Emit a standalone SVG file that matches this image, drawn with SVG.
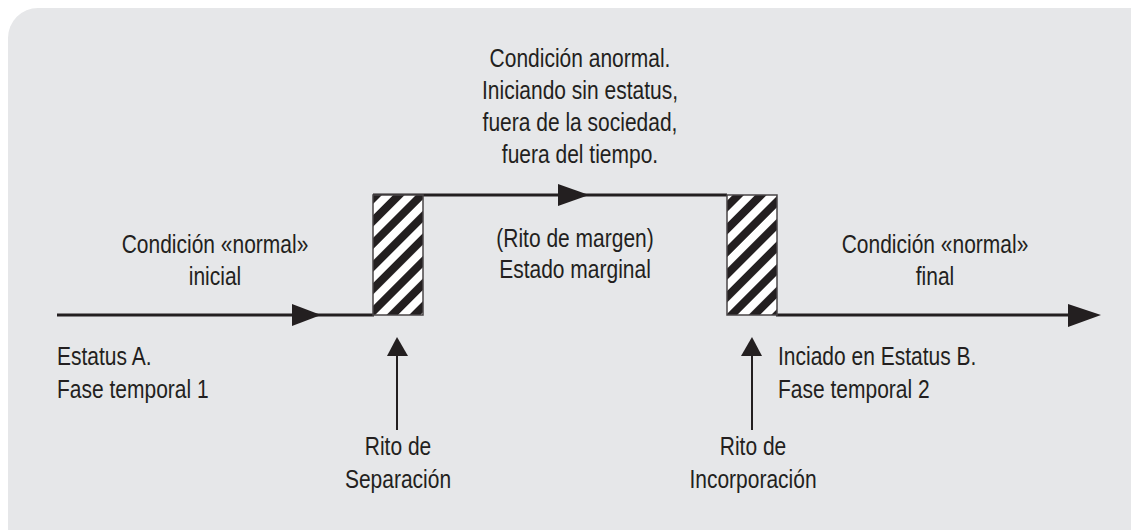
<svg xmlns="http://www.w3.org/2000/svg" width="1131" height="530" viewBox="0 0 1131 530">
<style>
.t{font-family:"Liberation Sans",Arial,sans-serif;font-size:25px;fill:#231f20}
.m{text-anchor:middle}
.ln{stroke:#231f20;stroke-width:3;fill:none}
.thin{stroke:#231f20;stroke-width:2;fill:none}
.ah{fill:#231f20}
.box{fill:url(#hatch);stroke:#4a4647;stroke-width:1.5}
</style>
<defs>
<pattern id="hatch" patternUnits="userSpaceOnUse" width="16" height="16" patternTransform="rotate(45)">
<rect width="16" height="16" fill="#ffffff"/>
<rect width="8" height="16" fill="#231f20"/>
</pattern>
</defs>
<rect x="8" y="8" width="1160" height="560" rx="30" fill="#e6e7e9"/>
<g id="connectors">
<line class="ln" x1="57" y1="315" x2="374" y2="315"/>
<polygon class="ah" points="292,304 321,315 292,326"/>
<line class="ln" x1="373" y1="195" x2="727" y2="195"/>
<polygon class="ah" points="558,184 589,195 558,206"/>
<line class="ln" x1="776" y1="315" x2="1070" y2="315"/>
<polygon class="ah" points="1068,304 1101,315 1068,327"/>
<line class="thin" x1="397" y1="430" x2="397" y2="352"/>
<polygon class="ah" points="387,356 397,337 408,356"/>
<line class="thin" x1="752" y1="430" x2="752" y2="352"/>
<polygon class="ah" points="741,356 752,337 762,356"/>
</g>
<g id="rito-separacion-box">
<rect class="box" x="373" y="195" width="50" height="120"/>
</g>
<g id="rito-incorporacion-box">
<rect class="box" x="727" y="195" width="50" height="120"/>
</g>
<g id="condicion-anormal">
<text class="t m" transform="translate(580,67) scale(0.84,1)">Condición anormal.</text>
<text class="t m" transform="translate(580,99) scale(0.84,1)">Iniciando sin estatus,</text>
<text class="t m" transform="translate(580,131) scale(0.84,1)">fuera de la sociedad,</text>
<text class="t m" transform="translate(580,163) scale(0.84,1)">fuera del tiempo.</text>
</g>
<g id="condicion-inicial">
<text class="t m" transform="translate(215,253) scale(0.84,1)">Condición «normal»</text>
<text class="t m" transform="translate(215,285) scale(0.84,1)">inicial</text>
</g>
<g id="estado-marginal">
<text class="t m" transform="translate(575,247) scale(0.84,1)">(Rito de margen)</text>
<text class="t m" transform="translate(575,278) scale(0.84,1)">Estado marginal</text>
</g>
<g id="condicion-final">
<text class="t m" transform="translate(935,253) scale(0.84,1)">Condición «normal»</text>
<text class="t m" transform="translate(935,285) scale(0.84,1)">final</text>
</g>
<g id="estatus-a">
<text class="t" transform="translate(57,365) scale(0.84,1)">Estatus A.</text>
<text class="t" transform="translate(57,398) scale(0.84,1)">Fase temporal 1</text>
</g>
<g id="estatus-b">
<text class="t" transform="translate(778,365) scale(0.84,1)">Inciado en Estatus B.</text>
<text class="t" transform="translate(778,398) scale(0.84,1)">Fase temporal 2</text>
</g>
<g id="rito-separacion">
<text class="t m" transform="translate(398,455) scale(0.84,1)">Rito de</text>
<text class="t m" transform="translate(398,488) scale(0.84,1)">Separación</text>
</g>
<g id="rito-incorporacion">
<text class="t m" transform="translate(753,455) scale(0.84,1)">Rito de</text>
<text class="t m" transform="translate(753,488) scale(0.84,1)">Incorporación</text>
</g>
</svg>
